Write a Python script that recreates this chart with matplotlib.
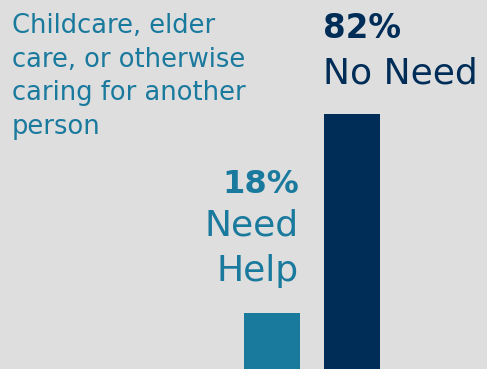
import matplotlib
matplotlib.use("Agg")
import matplotlib.pyplot as plt

categories = ["Need Help", "No Need"]
values = [18, 82]
pct_labels = ["18%", "82%"]
title_lines = ["Childcare, elder", "care, or otherwise", "caring for another", "person"]

BG = "#dedede"
TEAL = "#1a7a9e"
NAVY = "#002d57"
colors = [TEAL, NAVY]

W, H = 487, 369
fig = plt.figure(figsize=(W / 100, H / 100), dpi=100, facecolor=BG)
ax = fig.add_axes([0, 0, 1, 1], facecolor=BG)
x = list(range(len(categories)))
ax.bar(x, values, width=0.7, color=colors)
ax.set_xlim(-3.4, -3.4 + W / 80)
ax.set_ylim(0, 118.6)
ax.axis("off")

fam = ["DejaVu Sans"]
def px(xp, yp):
    return xp / W, 1 - yp / H

for i, line in enumerate(title_lines):
    fig.text(*px(12, 33 + 33.5 * i), line, ha="left", va="baseline", color=TEAL,
             fontsize=18.5, family=fam)

# Need Help labels (right aligned at teal bar right edge)
fig.text(*px(299, 193), pct_labels[0], ha="right", va="baseline", color=TEAL,
         fontsize=23, fontweight="bold", family=fam)
fig.text(*px(299, 236), "Need", ha="right", va="baseline", color=TEAL,
         fontsize=26, family=fam)
fig.text(*px(299, 281), "Help", ha="right", va="baseline", color=TEAL,
         fontsize=26, family=fam)

# No Need labels (left aligned at navy bar left edge)
fig.text(*px(323, 38), pct_labels[1], ha="left", va="baseline", color=NAVY,
         fontsize=23.5, fontweight="bold", family=fam)
fig.text(*px(323, 83), "No Need", ha="left", va="baseline", color=NAVY,
         fontsize=26, family=fam)

fig.savefig("out.png", dpi=100, facecolor=BG)
